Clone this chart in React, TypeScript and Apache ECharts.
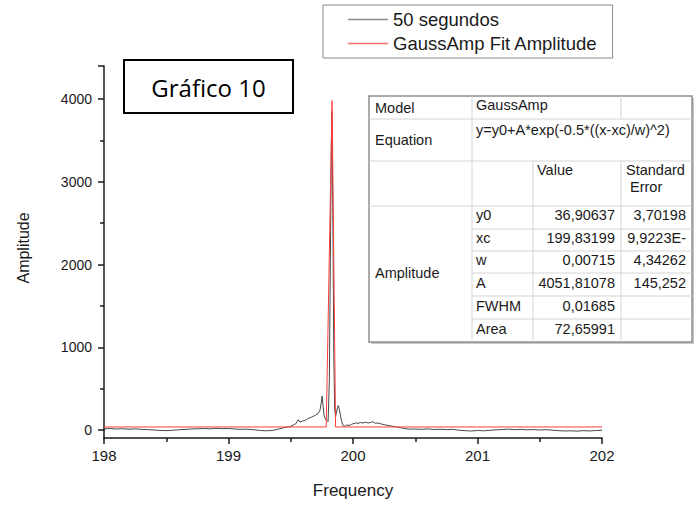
import React, { useEffect, useRef } from "react";
import * as echarts from "echarts";

const signalName = "50 segundos";
const fitName = "GaussAmp Fit Amplitude";
const chartLabel = "Gráfico 10";
const xAxisName = "Frequency";
const yAxisName = "Amplitude";

const freq = [
  198.0, 198.05, 198.1, 198.15, 198.2, 198.25, 198.3, 198.35, 198.4, 198.45,
  198.5, 198.55, 198.6, 198.65, 198.7, 198.75, 198.8, 198.85, 198.9, 198.95,
  199.0, 199.05, 199.1, 199.15, 199.2, 199.25, 199.3, 199.35, 199.4, 199.45,
  199.48, 199.5, 199.52, 199.54, 199.56, 199.575, 199.6, 199.62, 199.64, 199.66,
  199.68, 199.7, 199.72, 199.735, 199.745, 199.752, 199.76, 199.768, 199.78, 199.79,
  199.8, 199.81, 199.82, 199.829, 199.838, 199.846, 199.853, 199.86, 199.866, 199.875,
  199.882, 199.89, 199.9, 199.91, 199.92, 199.935, 199.95, 199.97, 199.99, 200.02,
  200.04, 200.06, 200.08, 200.1, 200.12, 200.14, 200.16, 200.18, 200.2, 200.22,
  200.25, 200.28, 200.31, 200.34, 200.37, 200.4, 200.45, 200.5, 200.55, 200.6,
  200.65, 200.7, 200.75, 200.8, 200.85, 200.9, 200.95, 201.0, 201.05, 201.1,
  201.15, 201.2, 201.25, 201.3, 201.35, 201.4, 201.45, 201.5, 201.55, 201.6,
  201.65, 201.7, 201.75, 201.8, 201.85, 201.9, 201.95, 202.0,
];
const amp = [
  15, 18, 12, 16, 10, 14, 8, 5, 0, -5,
  -8, -3, 2, 8, 12, 15, 18, 14, 20, 16,
  18, 12, 8, 10, 4, -5, -10, -6, 10, 30,
  38, 45, 60, 75, 125, 95, 110, 120, 140, 150,
  165, 180, 200, 240, 330, 410, 280, 170, 130, 115,
  100, 600, 2400, 3850, 2600, 900, 250, 160, 200, 270,
  295, 250, 170, 100, 55, 45, 60, 55, 70, 85,
  80, 90, 85, 95, 85, 90, 100, 80, 85, 75,
  65, 55, 48, 40, 30, 22, 10, 12, 8, 14,
  6, 10, 4, 8, -2, -8, -12, -6, -10, -4,
  2, 6, 10, 4, 8, 2, 6, 0, 4, -2,
  -8, -12, -10, -14, -8, -12, -6, -4,
];

// GaussAmp fit curve (as drawn)
const fitFreq = [198.0, 199.0, 199.785, 199.832, 199.86, 201.0, 202.0];
const fitAmp = [37, 37, 37, 3980, 37, 37, 37];

// fit result table
const paramNames = ["y0", "xc", "w", "A", "FWHM", "Area"];
const paramValues = ["36,90637", "199,83199", "0,00715", "4051,81078", "0,01685", "72,65991"];
const paramErrors = ["3,70198", "9,9223E-", "4,34262", "145,252", "", ""];
const modelName = "GaussAmp";
const equation = "y=y0+A*exp(-0.5*((x-xc)/w)^2)";

const FONT = '"Liberation Sans", Arial, sans-serif';
const INK = "#1a1a1a";

function txt(text: string, x: number, y: number, size: number, align: string = "left", family: string = FONT, color = INK) {
  return {
    type: "text",
    z: 100,
    style: {
      text,
      x,
      y,
      fill: color,
      fontSize: size,
      fontFamily: family,
      textAlign: align,
      align,
      textVerticalAlign: "middle",
      verticalAlign: "middle",
    },
  };
}

function ln(x1: number, y1: number, x2: number, y2: number, color = "#d4d4d4", w = 1, z = 99) {
  return { type: "line", z, shape: { x1, y1, x2, y2 }, style: { stroke: color, lineWidth: w } };
}

function buildTable() {
  const L = 369, R = 692, T = 96, B = 342;
  const c1 = 472, c2 = 533, c3 = 621;
  const rows = [119, 161, 206, 229, 251, 273, 296, 319];
  const els: any[] = [];
  els.push({ type: "rect", z: 97, shape: { x: L + 2, y: T + 2, width: R - L, height: B - T }, style: { fill: "#c8c8c8" } });
  els.push({ type: "rect", z: 98, shape: { x: L, y: T, width: R - L, height: B - T }, style: { fill: "#ffffff", stroke: "#8f8f8f", lineWidth: 1.5 } });
  els.push(ln(L, rows[0], R, rows[0]));
  els.push(ln(L, rows[1], R, rows[1]));
  els.push(ln(L, rows[2], R, rows[2]));
  for (let i = 3; i < rows.length; i++) els.push(ln(c1, rows[i], R, rows[i]));
  els.push(ln(c1, T, c1, B));
  els.push(ln(c3, T, c3, rows[0]));
  els.push(ln(c2, rows[1], c2, B));
  els.push(ln(c3, rows[1], c3, B));
  const fs = 14.5;
  els.push(txt("Model", 375, 108, fs));
  els.push(txt(modelName, 476, 105, fs));
  els.push(txt("Equation", 375, 140, fs));
  els.push(txt(equation, 476, 130, fs));
  els.push(txt("Value", 537, 170, fs));
  els.push(txt("Standard", 626, 170, fs));
  els.push(txt("Error", 630, 187, fs));
  els.push(txt("Amplitude", 375, 273, fs));
  const centers = [215, 238, 260, 283, 306, 329];
  paramNames.forEach((n, i) => {
    els.push(txt(n, 476, centers[i], fs));
    els.push(txt(paramValues[i], 615, centers[i], fs, "right"));
    if (paramErrors[i]) els.push(txt(paramErrors[i], 686, centers[i], fs, "right"));
  });
  return els;
}

export default function App() {
  const ref = useRef<HTMLDivElement>(null);
  useEffect(() => {
    document.body.style.margin = "0";
    if (!ref.current) return;
    const chart = echarts.init(ref.current, null, { renderer: "svg" });
    const signal = freq.map((f, i) => [f, amp[i]]);
    const fit = fitFreq.map((f, i) => [f, fitAmp[i]]);
    chart.setOption({
      animation: false,
      backgroundColor: "#ffffff",
      grid: { left: 104, right: 97, top: 65.9, bottom: 76, containLabel: false },
      legend: {
        orient: "vertical",
        left: 323,
        top: 5,
        padding: [5, 15, 5, 25],
        itemWidth: 40,
        itemHeight: 1.5,
        itemGap: 5,
        icon: "rect",
        borderColor: "#8a8a8a",
        borderWidth: 1,
        textStyle: { fontSize: 18.5, fontFamily: FONT, color: INK, lineHeight: 18 },
        data: [
          { name: signalName, itemStyle: { color: "#8c8c8c" } },
          { name: fitName, itemStyle: { color: "#ff6b6b" } },
        ],
      },
      xAxis: {
        type: "value",
        min: 198,
        max: 202,
        interval: 1,
        offset: 8,
        name: xAxisName,
        nameLocation: "middle",
        nameGap: 44,
        nameTextStyle: { fontSize: 17, fontFamily: FONT, color: INK },
        axisLine: { show: true, onZero: false, lineStyle: { color: INK, width: 1.5 } },
        axisTick: { show: true, length: 6, lineStyle: { color: INK, width: 1.5 } },
        minorTick: { show: true, splitNumber: 2, length: 4, lineStyle: { color: INK, width: 1.5 } },
        axisLabel: { fontSize: 15, fontFamily: FONT, color: INK, margin: 10 },
        splitLine: { show: false },
        minorSplitLine: { show: false },
      },
      yAxis: {
        type: "value",
        min: 0,
        max: 4400,
        interval: 1000,
        name: yAxisName,
        nameLocation: "middle",
        nameGap: 73,
        nameRotate: 90,
        nameTextStyle: { fontSize: 16, fontFamily: FONT, color: INK },
        axisLine: { show: true, onZero: false, lineStyle: { color: INK, width: 1.5 } },
        axisTick: { show: true, length: 6, lineStyle: { color: INK, width: 1.5 } },
        minorTick: { show: true, splitNumber: 2, length: 4, lineStyle: { color: INK, width: 1.5 } },
        axisLabel: { fontSize: 14, fontFamily: FONT, color: INK, margin: 12, showMaxLabel: false, formatter: (v: number) => String(v) },
        splitLine: { show: false },
        minorSplitLine: { show: false },
      },
      series: [
        {
          name: signalName,
          type: "line",
          data: signal,
          symbol: "none",
          clip: false,
          lineStyle: { color: "#474747", width: 1 },
          itemStyle: { color: "#474747" },
          z: 2,
        },
        {
          name: fitName,
          type: "line",
          data: fit,
          symbol: "none",
          clip: false,
          lineStyle: { color: "#ff3b3b", width: 1 },
          itemStyle: { color: "#ff3b3b" },
          z: 3,
        },
      ],
      graphic: [
        ln(104, 429, 104, 439, INK, 1.5, 50),
        { type: "rect", z: 98, shape: { x: 124, y: 60, width: 169, height: 53 }, style: { fill: "#ffffff", stroke: "#000000", lineWidth: 2 } },
        txt(chartLabel, 208.5, 87, 24, "center", '"Open Sans", "Noto Sans", sans-serif', "#000000"),
        ...buildTable(),
      ],
    });
    return () => chart.dispose();
  }, []);
  return <div ref={ref} style={{ width: 699, height: 506 }} />;
}
